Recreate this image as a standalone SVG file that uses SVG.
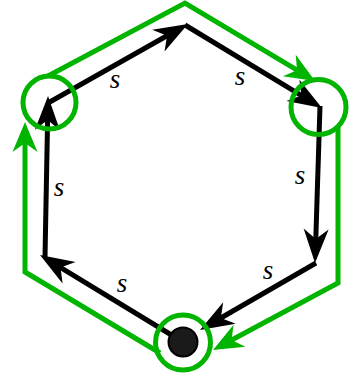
<svg xmlns="http://www.w3.org/2000/svg" width="363" height="378" viewBox="0 0 363 378">
<style>
.blk{fill:none;stroke:#000;stroke-width:5;marker-end:url(#ab)}
.grn{fill:none;stroke:#00b400;stroke-width:5;stroke-linejoin:miter;marker-end:url(#ag)}
.ring{fill:none;stroke:#00b400;stroke-width:5}
.lbl{font-family:"Liberation Serif",serif;font-style:italic;font-size:27px;fill:#000;text-anchor:middle}
</style>
<defs>
<marker id="ab" viewBox="-36 -14 38 28" refX="-18" refY="0" markerWidth="38" markerHeight="28" markerUnits="userSpaceOnUse" orient="auto">
<path d="M-34,-12.5 L0,0 L-34,12.5 L-24,0 Z" fill="#000"/>
</marker>
<marker id="ag" viewBox="-32 -14 34 28" refX="-18" refY="0" markerWidth="34" markerHeight="28" markerUnits="userSpaceOnUse" orient="auto">
<path d="M-30,-12.5 L0,0 L-30,12.5 L-21,0 Z" fill="#00b400"/>
</marker>
</defs>
<g id="connectors">
<path class="grn" d="M160,353 L25,272 L25,140"/>
<path class="grn" d="M48,76 L185,3 L299.6,71.7"/>
<path class="grn" d="M338,127 L338,283 L228.9,341.5"/>
<path class="blk" d="M48,103 L172.3,32.8"/>
<path class="blk" d="M185,25 L306.6,98.7"/>
<path class="blk" d="M320,106 L315.6,245"/>
<path class="blk" d="M316,263 L215.6,321"/>
<path class="blk" d="M183,342 L55.4,264.4"/>
<path class="blk" d="M45,257 L47.7,114"/>
</g>
<g id="node-left"><circle class="ring" cx="49.5" cy="102.5" r="26.5"/></g>
<g id="node-right"><circle class="ring" cx="318.5" cy="107" r="27.5"/></g>
<g id="node-bottom"><circle class="ring" cx="183" cy="342.5" r="27.5"/><circle cx="183" cy="342" r="14.5" fill="#1a1a1a" stroke="#000" stroke-width="2"/></g>
<g id="labels">
<text class="lbl" x="115" y="88">s</text>
<text class="lbl" x="240" y="85">s</text>
<text class="lbl" x="300" y="184">s</text>
<text class="lbl" x="59" y="196">s</text>
<text class="lbl" x="268" y="279">s</text>
<text class="lbl" x="122" y="292">s</text>
</g>
</svg>
